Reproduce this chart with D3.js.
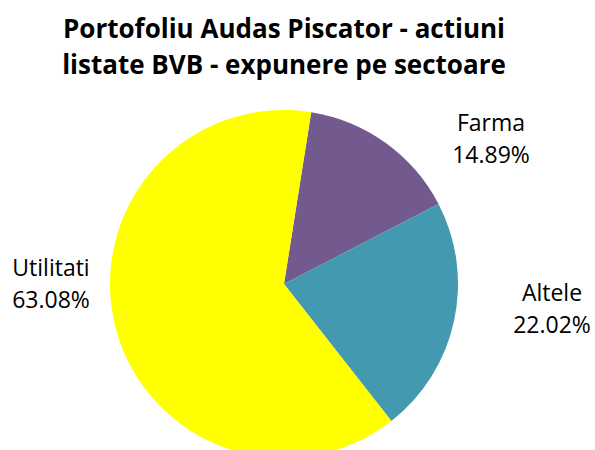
<!DOCTYPE html>
<html><head><meta charset="utf-8">
<script src="https://cdn.jsdelivr.net/npm/d3@7"></script>
<style>body{margin:0;background:#fff}</style>
</head><body>
<svg id="c" width="595" height="450"></svg>
<script>
const categories = ["Farma", "Altele", "Utilitati"];
const values = [14.89, 22.02, 63.08];
const colors = ["#725a8f", "#4299b0", "#ffff00"];
const titleLines = ["Portofoliu Audas Piscator - actiuni", "listate BVB - expunere pe sectoare"];
// label anchor positions (layout)
const labelPos = [[491, 124], [552, 294], [51, 269]];

const svg = d3.select("#c");
const cx = 284, cy = 284, r = 174;
const startDeg = 9;
const pie = d3.pie().sort(null).value(d => d)
  .startAngle(startDeg * Math.PI / 180)
  .endAngle((startDeg + 360) * Math.PI / 180);
const arc = d3.arc().innerRadius(0).outerRadius(r);
const g = svg.append("g").attr("transform", `translate(${cx},${cy})`);
g.selectAll("path").data(pie(values)).join("path")
  .attr("d", arc).attr("fill", (d, i) => colors[i]);

const font = "'Open Sans', sans-serif";
svg.selectAll("text.title").data(titleLines).join("text")
  .attr("class", "title")
  .attr("x", 284).attr("y", (d, i) => 38 + i * 36)
  .attr("text-anchor", "middle")
  .attr("font-family", font)
  .attr("font-weight", "bold").attr("font-size", 26)
  .attr("fill", "#000").text(d => d);

const lab = svg.selectAll("g.lab").data(categories).join("g").attr("class", "lab");
lab.append("text").attr("x", (d, i) => labelPos[i][0]).attr("y", (d, i) => labelPos[i][1] + 7)
  .attr("text-anchor", "middle").attr("font-family", font)
  .attr("font-size", 23).attr("fill", "#000").text(d => d);
lab.append("text").attr("x", (d, i) => labelPos[i][0]).attr("y", (d, i) => labelPos[i][1] + 39)
  .attr("text-anchor", "middle").attr("font-family", font)
  .attr("font-size", 23).attr("fill", "#000").text((d, i) => values[i].toFixed(2) + "%");
</script>
</body></html>
